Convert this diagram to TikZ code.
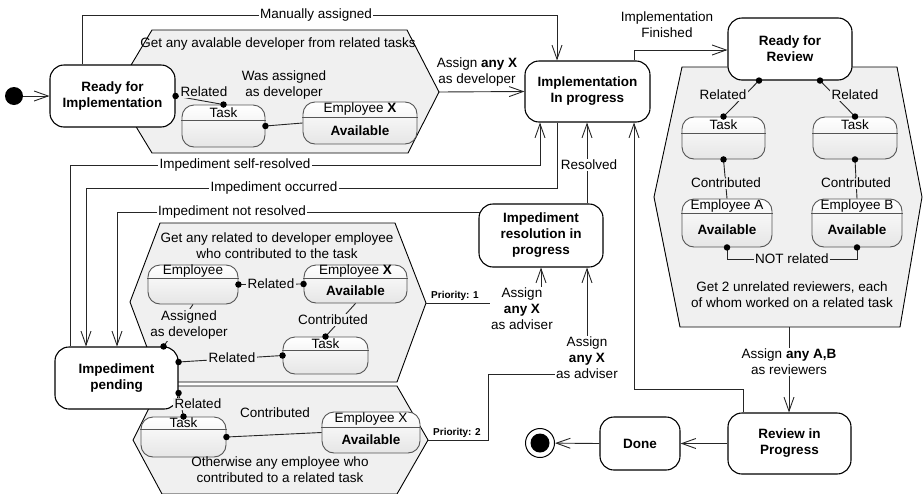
\documentclass[tikz,border=0pt]{standalone}
\usepackage{fontspec}
\setmainfont{Liberation Sans}
\usetikzlibrary{arrows.meta}
\definecolor{hexfill}{HTML}{F0F0F0}
\definecolor{ibord}{HTML}{555555}
\newcommand\myfs{\fontsize{13.5}{16}\selectfont}
\tikzset{
  st/.style={draw=black, line width=1.1pt, rounded corners=14pt, fill=white, inner sep=0pt,
    font=\myfs\bfseries, align=center},
  ib/.style={draw=ibord, line width=0.9pt, rounded corners=12pt, top color=white,
    bottom color=black!10, inner sep=0pt},
  hex/.style={draw=black, line width=0.9pt, fill=hexfill},
  con/.style={draw=black!85, line width=0.9pt},
  arr/.style={con, -{Straight Barb[length=14pt,width=10pt]}},
  lbl/.style={fill=white, inner sep=1.5pt, align=center},
  hl/.style={fill=hexfill, inner sep=1.5pt, align=center},
  plain/.style={inner sep=0pt, align=center},
  dot/.style={circle, fill=black, inner sep=0pt, minimum size=6.5pt},
  prio/.style={font=\fontsize{10}{12}\selectfont\bfseries, inner sep=0pt},
}
\newcommand\ibox[8]{%
  \node[ib, minimum width={(#4-#2)*1pt}, minimum height={(#5-#3)*1pt}] (#1) at ({(#2+#4)/2},{(#3+#5)/2}) {};
  \draw[ibord, line width=0.9pt] ([xshift=-0.45pt]#1.west |- 0,#6) -- ([xshift=0.45pt]#1.east |- 0,#6);
  \node[inner sep=0pt] (#1h) at ({(#2+#4)/2},{(#3+#6)/2}) {#7};
  \if\relax\detokenize{#8}\relax\else
  \node[inner sep=0pt] (#1b) at ({(#2+#4)/2},{(#6+#5)/2}) {#8};\fi
}
\begin{document}
\begin{tikzpicture}[x=1pt,y=-1pt,font=\myfs]
\useasboundingbox (0,0) rectangle (924,493);

% hexagonal selection regions
\path[hex] (152,30) -- (407,30) -- (439,92) -- (408,153) -- (152,153) -- (115,92) -- cycle;
\coordinate (h1r) at (439,92);
\path[hex] (160,223) -- (395,223) -- (426,303) -- (397,382) -- (160,382) -- (130,302) -- cycle;
\coordinate (h2r) at (426,303);
\path[hex] (160,386) -- (397,386) -- (428,440) -- (397,494) -- (162,494) -- (133,440) -- cycle;
\coordinate (h3r) at (428,440);
\path[hex] (682,67) -- (897,67) -- (922,197) -- (900,327) -- (680,327) -- (654,197) -- cycle;
\coordinate (h4b) at (789,327);

% main states
\node[circle, fill=black, minimum size=18pt, inner sep=0pt] (ini) at (14,96) {};
\node[st, minimum width=125pt, minimum height=62pt] (R1) at (112.5,96) {Ready for\\Implementation};
\node[st, minimum width=125pt, minimum height=61pt] (IP) at (587.5,91.5) {Implementation\\In progress};
\node[st, minimum width=124pt, minimum height=62pt] (RR) at (790,49) {Ready for\\Review};
\node[st, minimum width=124pt, minimum height=63pt] (IR) at (541,235.5) {Impediment\\resolution in\\progress};
\node[st, minimum width=123pt, minimum height=62pt] (IPd) at (116.5,378) {Impediment\\pending};
\node[st, minimum width=123pt, minimum height=61pt] (RP) at (789.5,443.5) {Review in\\Progress};
\node[st, minimum width=80pt, minimum height=53pt] (Dn) at (640,443.5) {Done};
\node[circle, draw=black, line width=1pt, fill=white, minimum size=29pt, inner sep=0pt] (fin) at (540,443) {};
\node[circle, fill=black, minimum size=19pt, inner sep=0pt] (finc) at (540,443) {};

% inner boxes
\ibox{t1}{182}{105}{265}{147}{120}{Task}{}
\ibox{e1}{303}{102}{417}{144}{117}{Employee \textbf{X}}{\textbf{Available}}
\ibox{e2}{148}{265}{238}{304}{278}{Employee}{}
\ibox{e3}{304}{265}{407}{303}{278}{Employee \textbf{X}}{\textbf{Available}}
\ibox{t2}{283}{337}{368}{374}{350}{Task}{}
\ibox{t3}{141}{417}{226}{457}{429}{Task}{}
\ibox{e4}{322}{412}{420}{453}{427}{Employee X}{\textbf{Available}}
\ibox{t4}{682}{117}{765}{159}{133}{Task}{}
\ibox{t5}{813}{117}{897}{159}{133}{Task}{}
\ibox{e5}{682}{199}{772}{247}{213}{Employee A}{\textbf{Available}}
\ibox{e6}{812}{199}{902}{247}{213}{Employee B}{\textbf{Available}}

% region captions
\node[plain] (h1t) at (278,44) {Get any avalable developer from related tasks};
\node[plain] (h2t) at (277,246) {Get any related to developer employee\\who contributed to the task};
\node[plain] (h3t) at (280,470) {Otherwise any employee who\\contributed to a related task};
\node[plain] (h4t) at (792,295) {Get 2 unrelated reviewers, each\\of whom worked on a related task};

% main connectors
\draw[arr] (ini) -- (R1.west);
\draw[arr] ([xshift=-30.5pt]R1.north) -- ([xshift=-30.5pt]R1.north |- 0,15) -| ([xshift=-30.5pt]IP.north);
\node[lbl] (lma) at (316,15) {Manually assigned};
\draw[arr] (h1r) -- (IP.west);
\node[plain] (lad) at (477,72) {Assign \textbf{any X}\\as developer};
\draw[arr] (IPd.north -| 70,0) -- (70,165) -| (IP.south -| 540,0);
\node[lbl] (lsr) at (235,165) {Impediment self-resolved};
\draw[arr] (IP.south -| 557,0) -- (557,188) -| (IPd.north -| 86,0);
\node[lbl] (loc) at (274,188) {Impediment occurred};
\draw[arr] ([xshift=1.5pt]IR.west |- 0,212) -- (117,212) -- (IPd.north -| 117,0);
\node[lbl] (lnr) at (232,212) {Impediment not resolved};
\draw[arr] (IR.north -| 587,0) -- (IP.south -| 587,0);
\node[lbl] (lres) at (589,165) {Resolved};
\draw[arr] (h2r) -| (IR.south);
\node[lbl] (la1) at (522,309) {Assign\\\textbf{any X}\\as adviser};
\node[prio] (p1) at (455,296) {Priority: 1};
\draw[arr] (h3r) -- (488,440) -- (488,374) -- (587,374) -- (IR.south -| 587,0);
\node[lbl] (la2) at (587,358) {Assign\\\textbf{any X}\\as adviser};
\node[prio] (p2) at (457,433) {Priority: 2};
\draw[arr] (IP.north -| 634,0) -- (634,50) -- (RR.west |- 0,50);
\node[plain] (lif) at (667,25) {Implementation\\Finished};
\draw[arr] (h4b) -- (RP.north -| 789,0);
\node[lbl] (lab) at (789,362) {Assign \textbf{any A,B}\\as reviewers};
\draw[arr] (RP.north -| 743,0) -- (743,389) -| (IP.south -| 634,0);
\draw[arr] (RP.west) -- (Dn.east);
\draw[arr] (Dn.west) -- (fin);

% inner connectors
\draw[con] (R1.east) -- (t1.north);
\node[hl] (r1) at (204,92) {Related};
\draw[con] (t1.east) -- (e1.west);
\node[plain] (wad) at (284,85) {Was assigned\\as developer};
\draw[con] (e2.east) -- (e3.west);
\node[hl] (r2) at (271,284) {Related};
\draw[con] (e2.south) -- ([xshift=-15pt]IPd.north east);
\node[hl] (aad) at (189,325) {Assigned\\as developer};
\draw[con] (e3.south) -- (t2.north);
\node[hl] (c1) at (333,320) {Contributed};
\draw[con] ([yshift=16pt]IPd.east) -- (t2.west);
\node[hl] (r3) at (232,358) {Related};
\draw[con] ([yshift=-15pt]IPd.east) -- (t3.north);
\node[hl] (r4) at (198,404) {Related};
\draw[con] (t3.east) -- (e4.west);
\node[plain] (c2) at (275,413) {Contributed};
\draw[con] ([xshift=-31pt]RR.south) -- (t4.north);
\node[hl] (r5) at (723,95) {Related};
\draw[con] ([xshift=30pt]RR.south) -- (t5.north);
\node[hl] (r6) at (855,95) {Related};
\draw[con] (t4.south) -- (e5.north);
\node[hl] (c3) at (726,183) {Contributed};
\draw[con] (t5.south) -- (e6.north);
\node[hl] (c4) at (856,183) {Contributed};
\draw[con] (e5.south) -- ++(0,12) -| (e6.south);
\node[hl] (nr) at (792,259) {NOT related};

% connection dots
\node[dot] at (R1.east) {};
\node[dot] at (t1.north) {};
\node[dot] at (t1.east) {};
\node[dot] at (e2.east) {};
\node[dot] at (e3.west) {};
\node[dot] at ([xshift=-15pt]IPd.north east) {};
\node[dot] at ([yshift=16pt]IPd.east) {};
\node[dot] at ([yshift=-15pt]IPd.east) {};
\node[dot] at (t2.north) {};
\node[dot] at (t2.west) {};
\node[dot] at (t3.north) {};
\node[dot] at (t3.east) {};
\node[dot] at ([xshift=-31pt]RR.south) {};
\node[dot] at ([xshift=30pt]RR.south) {};
\node[dot] at (t4.north) {};
\node[dot] at (t5.north) {};
\node[dot] at (t4.south) {};
\node[dot] at (t5.south) {};
\node[dot] at (e5.south) {};
\node[dot] at (e6.south) {};
\end{tikzpicture}
\end{document}
